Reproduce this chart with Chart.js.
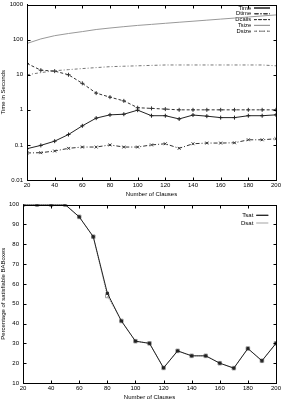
<!DOCTYPE html>
<html>
<head>
<meta charset="utf-8">
<script src="https://cdn.jsdelivr.net/npm/chart.js@4"></script>
<style>
html, body { margin: 0; padding: 0; background: #fff; overflow: hidden; }
canvas { position: absolute; left: 0; }
#timeChart { top: -3px; }
#satChart { top: 197px; }
</style>
</head>
<body>
<canvas id="timeChart" width="283" height="203"></canvas>
<canvas id="satChart" width="283" height="205"></canvas>
<script>
// valeurs
const clauses = [20, 30, 40, 50, 60, 70, 80, 90, 100, 110, 120, 130, 140, 150, 160, 170, 180, 190, 200];
const timeSec = [0.078, 0.097, 0.128, 0.198, 0.35, 0.58, 0.72, 0.75, 0.98, 0.68, 0.68, 0.55, 0.71, 0.66, 0.6, 0.6, 0.68, 0.68, 0.72];
const dtimeSec = [0.059, 0.06, 0.067, 0.08, 0.087, 0.087, 0.1, 0.087, 0.087, 0.1, 0.108, 0.08, 0.108, 0.113, 0.113, 0.115, 0.14, 0.14, 0.15];
const dcalls = [21, 13.5, 12.7, 10, 5.7, 3.0, 2.3, 1.8, 1.15, 1.1, 1.05, 1, 1, 1, 1, 1, 1, 1, 1];
const tsize = [78, 105, 130, 150, 170, 195, 215, 235, 255, 273, 293, 314, 336, 360, 386, 413, 443, 475, 508];
const dsize = [10, 11.5, 13, 14, 15, 16, 17, 17.5, 18, 18.5, 19, 19, 19, 19, 19, 19, 19, 19, 18];

const tsat = [100, 100, 100, 100, 93.8, 83.8, 55.3, 41.3, 31.1, 30, 17.6, 26.2, 23.7, 23.7, 20, 17.5, 27.4, 21.2, 30];
const dsat = [100, 100, 100, 100, 93.8, 83.8, 53.9, 41.3, 31.1, 30, 17.6, 26.2, 23.7, 23.7, 20, 17.5, 27.4, 21.2, 30];

const xTicks = [20, 40, 60, 80, 100, 120, 140, 160, 180, 200];
const logTicks = [0.01, 0.1, 1, 10, 100, 1000];
const pctTicks = [10, 20, 30, 40, 50, 60, 70, 80, 90, 100];

const FONT = { family: 'Liberation Sans, Arial, sans-serif', size: 6 };

function pts(vals) {
    return vals.map((v, i) => ({ x: clauses[i], y: v }));
}

function fixTicks(list) {
    return function(scale) { scale.ticks = list.map(v => ({ value: v })); };
}

// cadre, graduations vers l'intérieur (sur les 4 côtés) et légende placée à droite
function frame(legRight, legTopOffset) {
    return {
        id: 'frame',
        afterLayout(chart) {
            const lg = chart.legend;
            const a = chart.chartArea;
            lg.left = legRight - lg.width;
            lg.right = legRight;
            lg.top = a.top + legTopOffset;
            lg.bottom = lg.top + lg.height;
        },
        afterDatasetsDraw(chart) {
            const a = chart.chartArea;
            const ctx = chart.ctx;
            const L = Math.round(a.left) + 0.5, R = Math.round(a.right) + 0.5;
            const T = Math.round(a.top) + 0.5, B = Math.round(a.bottom) + 0.5;
            ctx.save();
            ctx.strokeStyle = '#000';
            ctx.lineWidth = 1;
            ctx.strokeRect(L, T, R - L, B - T);
            ctx.beginPath();
            chart.scales.x.ticks.forEach(t => {
                const px = Math.round(chart.scales.x.getPixelForValue(t.value)) + 0.5;
                ctx.moveTo(px, B); ctx.lineTo(px, B - 3);
                ctx.moveTo(px, T); ctx.lineTo(px, T + 3);
            });
            chart.scales.y.ticks.forEach(t => {
                const py = Math.round(chart.scales.y.getPixelForValue(t.value)) + 0.5;
                ctx.moveTo(L, py); ctx.lineTo(L + 3, py);
                ctx.moveTo(R, py); ctx.lineTo(R - 3, py);
            });
            ctx.stroke();
            ctx.restore();
        }
    };
}

const noGrid = { drawOnChartArea: false, drawTicks: false };

function axisX(h, titlePad) {
    return {
        type: 'linear', min: 20, max: 200,
        afterBuildTicks: fixTicks(xTicks),
        afterFit(s) { s.height = h; },
        grid: noGrid,
        border: { color: '#000' },
        ticks: { font: FONT, color: '#000', padding: 2, maxRotation: 0 },
        title: { display: true, text: 'Number of Clauses', font: FONT, color: '#000', padding: { top: 1, bottom: titlePad } }
    };
}

new Chart(document.getElementById('timeChart'), {
    type: 'line',
    data: {
        datasets: [
            { label: 'Time', data: pts(timeSec), borderColor: '#222', backgroundColor: '#222', borderWidth: 1, pointStyle: 'cross', pointRadius: 2, pointBorderWidth: 1 },
            { label: 'Dtime', data: pts(dtimeSec), borderColor: '#333', backgroundColor: '#333', borderWidth: 1, borderDash: [4, 2, 1, 2], pointStyle: 'crossRot', pointRadius: 2, pointBorderWidth: 1 },
            { label: 'Dcalls', data: pts(dcalls), borderColor: '#333', backgroundColor: '#333', borderWidth: 1, borderDash: [3, 2], pointStyle: 'cross', pointRadius: 2, pointBorderWidth: 1 },
            { label: 'Tsize', data: pts(tsize), borderColor: '#999', backgroundColor: '#999', borderWidth: 1, pointRadius: 0 },
            { label: 'Dsize', data: pts(dsize), borderColor: '#777', backgroundColor: '#777', borderWidth: 1, borderDash: [3, 2, 1, 2], pointRadius: 0 }
        ]
    },
    options: {
        responsive: false,
        animation: false,
        layout: { padding: { top: 0, right: 3, left: 0, bottom: 0 } },
        plugins: {
            legend: {
                position: 'chartArea', align: 'start', rtl: true,
                labels: { font: { family: FONT.family, size: 5.8 }, color: '#000', boxWidth: 16, boxHeight: 0, padding: 0 }
            },
            tooltip: { enabled: false }
        },
        scales: {
            x: axisX(20, 2),
            y: {
                type: 'logarithmic', min: 0.01, max: 1000,
                afterBuildTicks: fixTicks(logTicks),
                afterFit(scale) { scale.width = 27; },
                grid: noGrid,
                border: { color: '#000' },
                ticks: { font: FONT, color: '#000', padding: 4, callback: v => String(v) },
                title: { display: true, text: 'Time in Seconds', font: FONT, color: '#000', padding: 0 }
            }
        }
    },
    plugins: [frame(270, 0.5)]
});

new Chart(document.getElementById('satChart'), {
    type: 'line',
    data: {
        datasets: [
            { label: 'Tsat', data: pts(tsat), borderColor: '#222', backgroundColor: '#222', borderWidth: 1, pointStyle: 'rect', pointRadius: 1.5, pointBorderWidth: 1 },
            { label: 'Dsat', data: pts(dsat), borderColor: '#999', backgroundColor: 'rgba(0,0,0,0)', borderWidth: 1, borderDash: [1, 1], pointStyle: 'rect', pointRadius: 2.5, pointBorderWidth: 1 }
        ]
    },
    options: {
        responsive: false,
        animation: false,
        layout: { padding: { top: 1, right: 3, left: 0, bottom: 0 } },
        plugins: {
            legend: {
                position: 'chartArea', align: 'start', rtl: true,
                labels: { font: FONT, color: '#000', boxWidth: 12, boxHeight: 0, padding: 1.7 }
            },
            tooltip: { enabled: false }
        },
        scales: {
            x: axisX(19, 1.5),
            y: {
                type: 'linear', min: 10, max: 100,
                afterBuildTicks: fixTicks(pctTicks),
                afterFit(scale) { scale.width = 23; },
                grid: noGrid,
                border: { color: '#000' },
                ticks: { font: FONT, color: '#000', padding: 4 },
                title: { display: true, text: 'Percentage of satisfiable BABoxes', font: FONT, color: '#000', padding: 0 }
            }
        }
    },
    plugins: [frame(270, 6)]
});
</script>
</body>
</html>
